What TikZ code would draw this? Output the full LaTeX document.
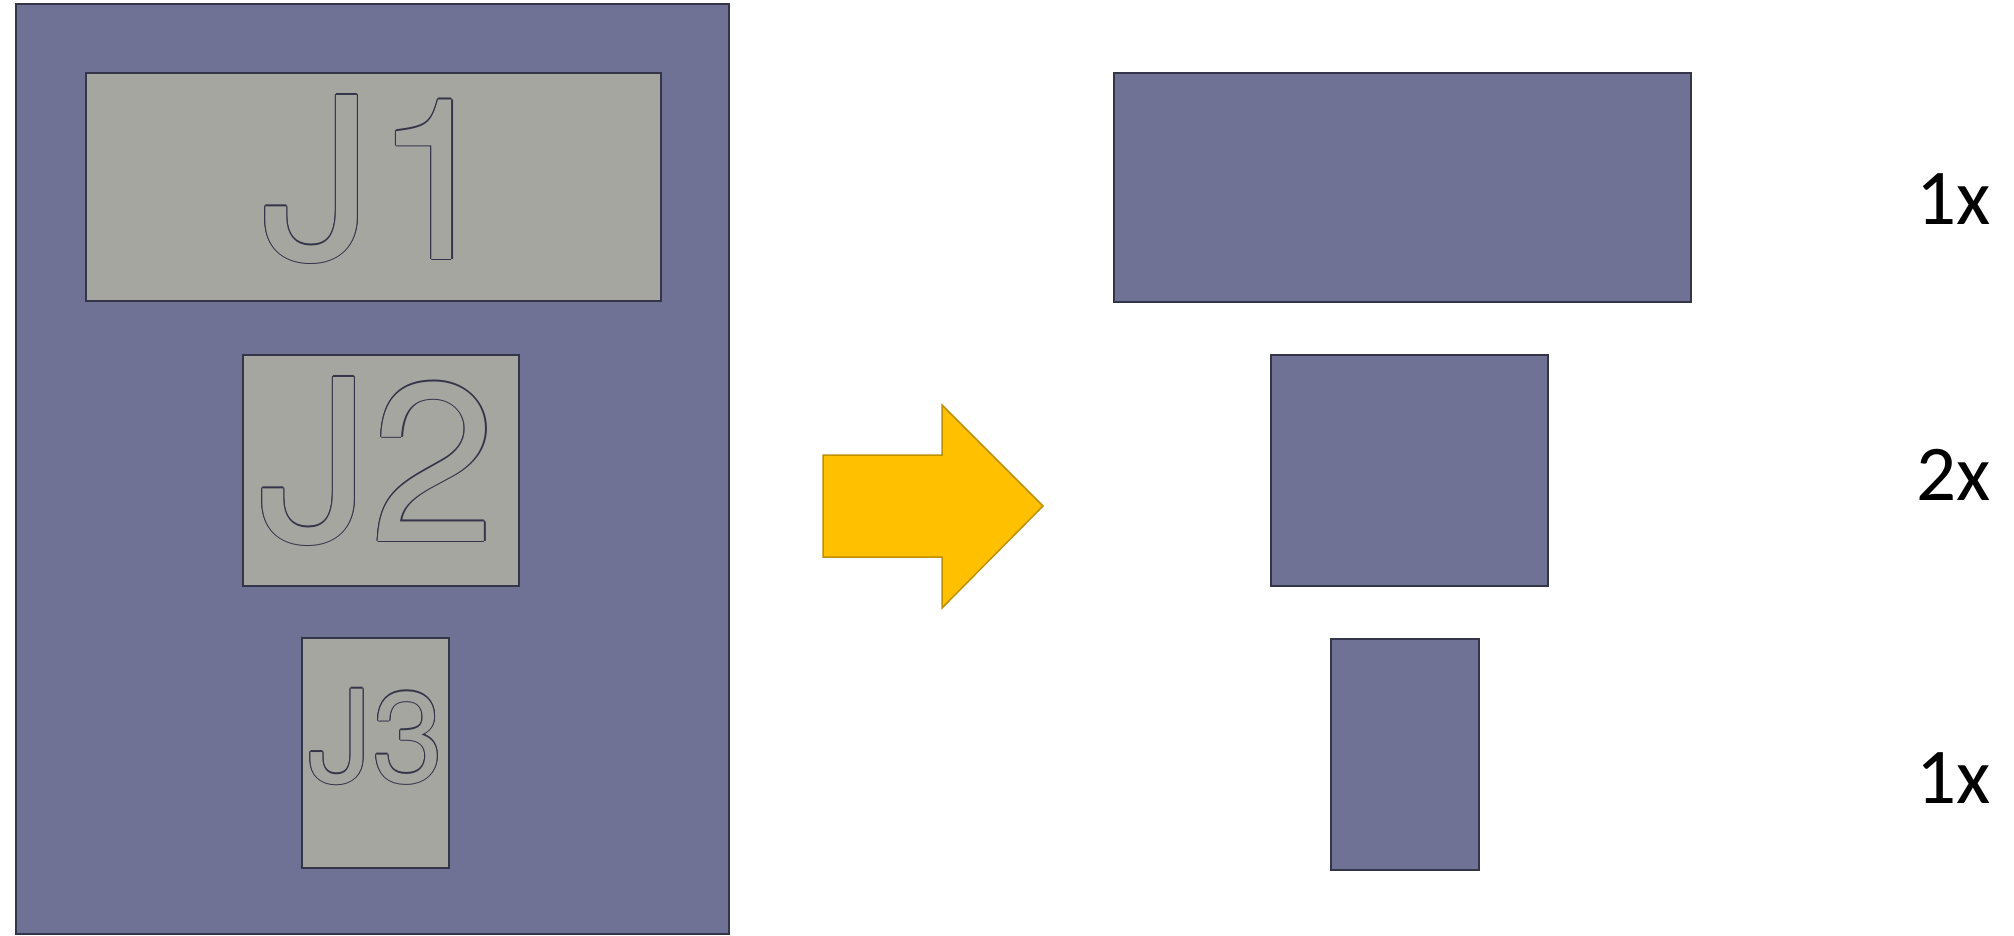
\documentclass[tikz,border=0pt]{standalone}
\usepackage{fontspec}
\newfontfamily\jfont{TeX Gyre Heros}
\newfontfamily\labelfont{Carlito}
\definecolor{boardfill}{HTML}{6F7195}
\definecolor{partfill}{HTML}{A6A6A1}
\definecolor{edgecol}{HTML}{35354A}
\definecolor{arrowfill}{HTML}{FFC000}
\definecolor{arrowedge}{HTML}{BF9000}
\newcommand{\offcopy}[3]{\rlap{\hspace*{#1}\raisebox{#2}{#3}}}
\newcommand{\ringtext}[1]{%
  {\color{edgecol}%
   \offcopy{1.3pt}{0pt}{#1}\offcopy{-1.3pt}{0pt}{#1}%
   \offcopy{0pt}{1.3pt}{#1}\offcopy{0pt}{-1.3pt}{#1}%
   \offcopy{0.92pt}{0.92pt}{#1}\offcopy{-0.92pt}{0.92pt}{#1}%
   \offcopy{0.92pt}{-0.92pt}{#1}\offcopy{-0.92pt}{-0.92pt}{#1}}%
  {\color{partfill}#1}}
\tikzset{
  board/.style={draw=edgecol, fill=boardfill, line width=1.6pt, inner sep=0pt, anchor=north west},
  part/.style={draw=edgecol, fill=partfill, line width=1.6pt, inner sep=0pt, anchor=north west},
  piece/.style={draw=edgecol, fill=boardfill, line width=1.6pt, inner sep=0pt, anchor=north west},
  jlabel/.style={inner sep=0pt, anchor=base},
  countlabel/.style={text=black, inner sep=0pt, anchor=base west, font=\labelfont\fontsize{79}{82}\selectfont},
}
\begin{document}
\begin{tikzpicture}[x=1pt,y=-1pt]
\useasboundingbox (0,0) rectangle (2014,936);
% left board
\node[board, minimum width=713pt, minimum height=930pt] (board) at (15,3) {};
\node[part, minimum width=575pt, minimum height=228pt] (p1) at (85,72) {};
\node[part, minimum width=276pt, minimum height=231pt] (p2) at (242,354) {};
\node[part, minimum width=147pt, minimum height=230pt] (p3) at (301,637) {};
\node[jlabel, font=\jfont\fontsize{225}{230}\selectfont] (t1) at (380,259) {\ringtext{J1}};
\node[jlabel, font=\jfont\fontsize{225}{230}\selectfont] (t2) at (377,541) {\ringtext{J2}};
\node[jlabel, font=\jfont\fontsize{128}{132}\selectfont] (t3) at (376,782) {\ringtext{J3}};
% arrow
\draw[fill=arrowfill, draw=arrowedge, line width=1.5pt, line join=miter]
  (823,455) -- (942,455) -- (942,405) -- (1043,506) -- (942,608) -- (942,557) -- (823,557) -- cycle;
% right pieces
\node[piece, minimum width=577pt, minimum height=229pt] (r1) at (1113,72) {};
\node[piece, minimum width=277pt, minimum height=231pt] (r2) at (1270,354) {};
\node[piece, minimum width=148pt, minimum height=231pt] (r3) at (1330,638) {};
% counts
\node[countlabel] (c1) at (1916,225) {1x};
\node[countlabel] (c2) at (1916,500) {2x};
\node[countlabel] (c3) at (1916,803) {1x};
\end{tikzpicture}
\end{document}
